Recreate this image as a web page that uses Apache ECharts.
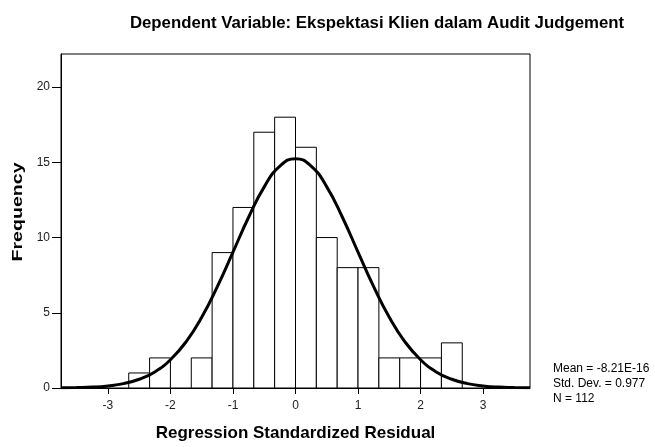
<!DOCTYPE html>
<html>
<head>
<meta charset="utf-8">
<script src="https://cdn.jsdelivr.net/npm/echarts@6/dist/echarts.min.js"></script>
<style>
  html, body { margin: 0; padding: 0; background: #fff; }
  #chart { width: 655px; height: 447px; }
</style>
</head>
<body>
<div id="chart"></div>
<script>
// histogram bins (width 1/3), counts
var binLo = [-8/3, -7/3, -2, -5/3, -4/3, -1, -2/3, -1/3, 0, 1/3, 2/3, 1, 4/3, 5/3, 2, 7/3];
var counts = [1, 2, 0, 2, 9, 12, 17, 18, 16, 10, 8, 8, 2, 2, 2, 3];
var binWidth = 1 / 3;

// normal curve, every 0.25
var curveX = [-3.75, -3.5, -3.25, -3, -2.75, -2.5, -2.25, -2, -1.75, -1.5, -1.25, -1, -0.75, -0.5, -0.25, 0,
  0.25, 0.5, 0.75, 1, 1.25, 1.5, 1.75, 2, 2.25, 2.5, 2.75, 3, 3.25, 3.5, 3.75];
var curveY = [0.01, 0.03, 0.06, 0.14, 0.29, 0.58, 1.07, 1.88, 3.07, 4.70, 6.74, 9.03, 11.35, 13.37, 14.75, 15.24,
  14.75, 13.37, 11.35, 9.03, 6.74, 4.70, 3.07, 1.88, 1.07, 0.58, 0.29, 0.14, 0.06, 0.03, 0.01];

var xTicks = [-3, -2, -1, 0, 1, 2, 3];
var yTicks = [0, 5, 10, 15, 20];

var chart = echarts.init(document.getElementById('chart'));

var barData = [];
binLo.forEach(function (lo, i) {
  if (counts[i] > 0) barData.push([lo, lo + binWidth, counts[i]]);
});
var lineData = curveX.map(function (x, i) { return [x, curveY[i]]; });

var font = 'Arial, "Liberation Sans", sans-serif';

var option = {
  animation: false,
  title: {
    text: 'Dependent Variable: Ekspektasi Klien dalam Audit Judgement',
    left: 372,
    textAlign: 'center',
    top: 10,
    textStyle: { fontFamily: font, fontSize: 16.8, fontWeight: 'bold', color: '#000' }
  },
  grid: {
    left: 61, top: 54, right: 125, bottom: 56,
    show: true, borderColor: '#000', borderWidth: 1, backgroundColor: 'transparent'
  },
  xAxis: {
    type: 'value',
    min: -3.75, max: 3.75,
    name: 'Regression Standardized Residual',
    nameLocation: 'middle',
    nameGap: 37,
    nameTextStyle: { fontFamily: font, fontSize: 17, fontWeight: 'bold', color: '#000' },
    axisLine: { show: true, onZero: false, lineStyle: { color: '#000', width: 1 } },
    axisTick: { show: true, length: 6, customValues: xTicks, lineStyle: { color: '#000' } },
    axisLabel: { customValues: xTicks, margin: 12, fontFamily: font, fontSize: 12, color: '#222' },
    splitLine: { show: false }
  },
  yAxis: {
    type: 'value',
    min: 0, max: 22.2,
    axisLine: { show: true, onZero: false, lineStyle: { color: '#000', width: 1 } },
    axisTick: { show: true, length: 9, customValues: yTicks, lineStyle: { color: '#000' } },
    axisLabel: { customValues: yTicks, margin: 11, fontFamily: font, fontSize: 12, color: '#222' },
    splitLine: { show: false }
  },
  series: [
    {
      type: 'custom',
      data: barData,
      encode: { x: [0, 1], y: 2 },
      renderItem: function (params, api) {
        var p0 = api.coord([api.value(0), api.value(2)]);
        var p1 = api.coord([api.value(1), 0]);
        return {
          type: 'rect',
          shape: { x: p0[0], y: p0[1], width: p1[0] - p0[0], height: p1[1] - p0[1] },
          style: { fill: '#fff', stroke: '#000', lineWidth: 1 }
        };
      },
      z: 2
    },
    {
      type: 'line',
      data: lineData,
      smooth: true,
      symbol: 'none',
      lineStyle: { color: '#000', width: 3 },
      z: 3
    }
  ],
  graphic: [
    {
      // y axis title, a bit stretched along its length like the original
      type: 'text',
      x: 18, y: 212,
      rotation: Math.PI / 2,
      scaleX: 1.4,
      style: {
        text: 'Frequency', align: 'center', verticalAlign: 'middle',
        fontFamily: font, fontSize: 14, fontWeight: 'bold', fill: '#000'
      }
    },
    {
      type: 'text',
      left: 553, top: 361,
      style: {
        text: 'Mean = -8.21E-16\nStd. Dev. = 0.977\nN = 112',
        fontFamily: font, fontSize: 12, lineHeight: 15, fill: '#000'
      }
    }
  ]
};

chart.setOption(option);
</script>
</body>
</html>
